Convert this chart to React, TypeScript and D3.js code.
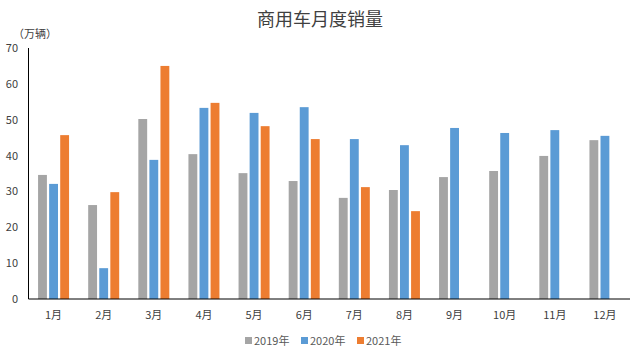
import React from "react";
import * as d3 from "d3";

const months = ["1月","2月","3月","4月","5月","6月","7月","8月","9月","10月","11月","12月"];
const seriesNames = ["2019年","2020年","2021年"];
const v2019 = [34.6,26.2,50.2,40.4,35.1,32.9,28.2,30.4,34.0,35.7,39.9,44.3];
const v2020 = [32.1,8.6,38.8,53.3,51.9,53.5,44.6,42.9,47.7,46.3,47.1,45.5];
const v2021 = [45.7,29.8,65.0,54.7,48.2,44.6,31.2,24.5,null,null,null,null];
const yTicks = [0,10,20,30,40,50,60,70];
const colors = ["#A5A5A5","#5B9BD5","#ED7D31"];

const W = 639, H = 357;
const left = 28.5, right = 630, top = 48, bottom = 299;
const font = "'Noto Sans CJK SC', 'Noto Sans', sans-serif";

export default function App() {
  const x = d3.scaleBand<string>().domain(months).range([left, right]).paddingInner(0).paddingOuter(0);
  const x1 = d3.scaleBand<string>().domain(seriesNames).range([-15.5, 15.5]).paddingInner(0.2);
  const y = d3.scaleLinear().domain([0, 70]).range([bottom, top]);
  const data = [v2019, v2020, v2021];
  const legendX = [245, 301, 357];
  return (
    <svg width={W} height={H} style={{ position: "absolute", left: 0, top: 0, fontFamily: font }}>
      <rect width={W} height={H} fill="#fff" />
      <text x={320} y={26} textAnchor="middle" fontSize={18} fill="#404040">商用车月度销量</text>
      <text x={35} y={38} textAnchor="middle" fontSize={11} fill="#404040">（万辆）</text>
      {yTicks.map(t => (
        <text key={t} x={18} y={y(t) + 4} textAnchor="end" fontSize={11} fill="#404040">{t}</text>
      ))}
      {data.map((vals, si) => vals.map((v, i) => v == null ? null : (
        <rect key={si + "-" + i}
          x={(x(months[i]) as number) + x.bandwidth() / 2 + (x1(seriesNames[si]) as number)}
          y={y(v)} width={x1.bandwidth()} height={y(0) - y(v)} fill={colors[si]} />
      )))}
      <line x1={left} x2={left} y1={top} y2={bottom} stroke="#000" strokeWidth={1} />
      <line x1={left} x2={right} y1={bottom} y2={bottom} stroke="#000" strokeWidth={1} />
      {months.map(m => (
        <text key={m} x={(x(m) as number) + x.bandwidth() / 2} y={319} textAnchor="middle" fontSize={11} fill="#404040">{m}</text>
      ))}
      {seriesNames.map((s, i) => (
        <g key={s}>
          <rect x={legendX[i]} y={337} width={7} height={7} fill={colors[i]} />
          <text x={legendX[i] + 9} y={345} fontSize={11} fill="#595959">{s}</text>
        </g>
      ))}
    </svg>
  );
}
